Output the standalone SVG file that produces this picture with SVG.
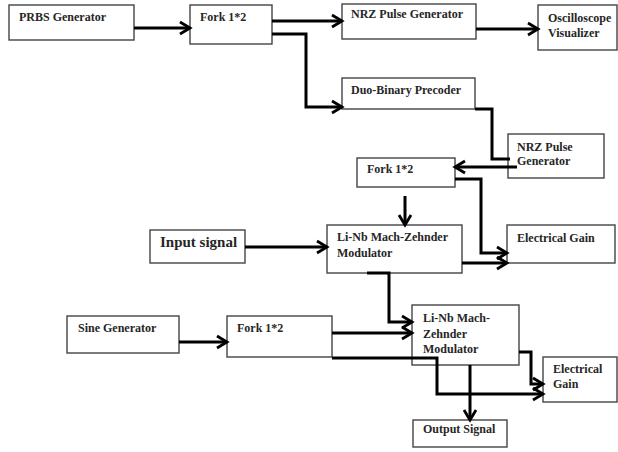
<svg xmlns="http://www.w3.org/2000/svg" width="618" height="452" viewBox="0 0 618 452">
  <style>
    .box { fill: #ffffff; stroke: #444444; stroke-width: 1.4; }
    .lbl { font-family: "Liberation Serif", "DejaVu Serif", serif; font-size: 12px; font-weight: bold; fill: #262626; }
    .big { font-size: 15px; }
    .wire { fill: none; stroke: #000000; stroke-width: 3; stroke-linejoin: miter; }
    .arr { marker-end: url(#chev); }
  </style>
  <defs>
    <!-- open chevron arrowhead, tip sits on the target edge -->
    <marker id="chev" markerUnits="userSpaceOnUse" markerWidth="18" markerHeight="18" viewBox="0 0 18 18" refX="13" refY="9" orient="auto">
      <path d="M3,3 L13,9 L3,15" fill="none" stroke="#000000" stroke-width="2.8"/>
    </marker>
  </defs>
  <rect width="618" height="452" fill="#ffffff"/>

  <g id="prbs-generator">
    <rect class="box" x="9" y="5" width="125" height="35"/>
    <text class="lbl" x="19" y="21">PRBS Generator</text>
  </g>
  <g id="fork-a">
    <rect class="box" x="190" y="5" width="82" height="39"/>
    <text class="lbl" x="200" y="21">Fork 1*2</text>
  </g>
  <g id="nrz-pulse-a">
    <rect class="box" x="342" y="4" width="134" height="35"/>
    <text class="lbl" x="351" y="18">NRZ Pulse Generator</text>
  </g>
  <g id="oscilloscope">
    <rect class="box" x="538" y="5" width="79" height="45"/>
    <text class="lbl" x="548" y="22">Oscilloscope</text>
    <text class="lbl" x="548" y="37">Visualizer</text>
  </g>
  <g id="duobinary-precoder">
    <rect class="box" x="342" y="78" width="133" height="31"/>
    <text class="lbl" x="351" y="94">Duo-Binary Precoder</text>
  </g>
  <g id="nrz-pulse-b">
    <rect class="box" x="508" y="134" width="96" height="44"/>
    <text class="lbl" x="517" y="151">NRZ Pulse</text>
    <text class="lbl" x="517" y="165">Generator</text>
  </g>
  <g id="fork-b">
    <rect class="box" x="357" y="158" width="98" height="29"/>
    <text class="lbl" x="367" y="173">Fork 1*2</text>
  </g>
  <g id="input-signal">
    <rect class="box" x="150" y="230" width="95" height="33"/>
    <text class="lbl big" x="160" y="247">Input signal</text>
  </g>
  <g id="mzm-a">
    <rect class="box" x="327" y="225" width="135" height="48"/>
    <text class="lbl" x="337" y="241">Li-Nb Mach-Zehnder</text>
    <text class="lbl" x="337" y="257">Modulator</text>
  </g>
  <g id="electrical-gain-a">
    <rect class="box" x="507" y="225" width="108" height="38"/>
    <text class="lbl" x="517" y="242">Electrical Gain</text>
  </g>
  <g id="sine-generator">
    <rect class="box" x="67" y="316" width="112" height="37"/>
    <text class="lbl" x="78" y="332">Sine Generator</text>
  </g>
  <g id="fork-c">
    <rect class="box" x="227" y="316" width="105" height="41"/>
    <text class="lbl" x="237" y="332">Fork 1*2</text>
  </g>
  <g id="mzm-b">
    <rect class="box" x="412" y="305" width="107" height="60"/>
    <text class="lbl" x="423" y="322">Li-Nb Mach-</text>
    <text class="lbl" x="423" y="338">Zehnder</text>
    <text class="lbl" x="423" y="353">Modulator</text>
  </g>
  <g id="electrical-gain-b">
    <rect class="box" x="543" y="357" width="74" height="45"/>
    <text class="lbl" x="553" y="373">Electrical</text>
    <text class="lbl" x="553" y="388">Gain</text>
  </g>
  <g id="output-signal">
    <rect class="box" x="413" y="420" width="94" height="27"/>
    <text class="lbl" x="423" y="433">Output Signal</text>
  </g>

  <g id="connectors">
    <path class="wire arr" d="M134,28 H190"/>
    <path class="wire arr" d="M272,21 H342"/>
    <path class="wire arr" d="M272,34 H306 V107 H342"/>
    <path class="wire arr" d="M476,29 H538"/>
    <path class="wire" d="M475,109 H492 V159 H510"/>
    <path class="wire arr" d="M517,167 H455"/>
    <path class="wire arr" d="M455,179 H481 V253 H507"/>
    <path class="wire arr" d="M405,196 V225"/>
    <path class="wire arr" d="M245,247 H327"/>
    <path class="wire arr" d="M462,263 H507"/>
    <path class="wire arr" d="M367,273 H389 V322 H412"/>
    <path class="wire arr" d="M179,342 H227"/>
    <path class="wire arr" d="M332,333 H412"/>
    <path class="wire arr" d="M332,358 H437 V394 H543"/>
    <path class="wire arr" d="M519,352 H531 V384 H543"/>
    <path class="wire arr" d="M470,365 V420"/>
  </g>
</svg>
